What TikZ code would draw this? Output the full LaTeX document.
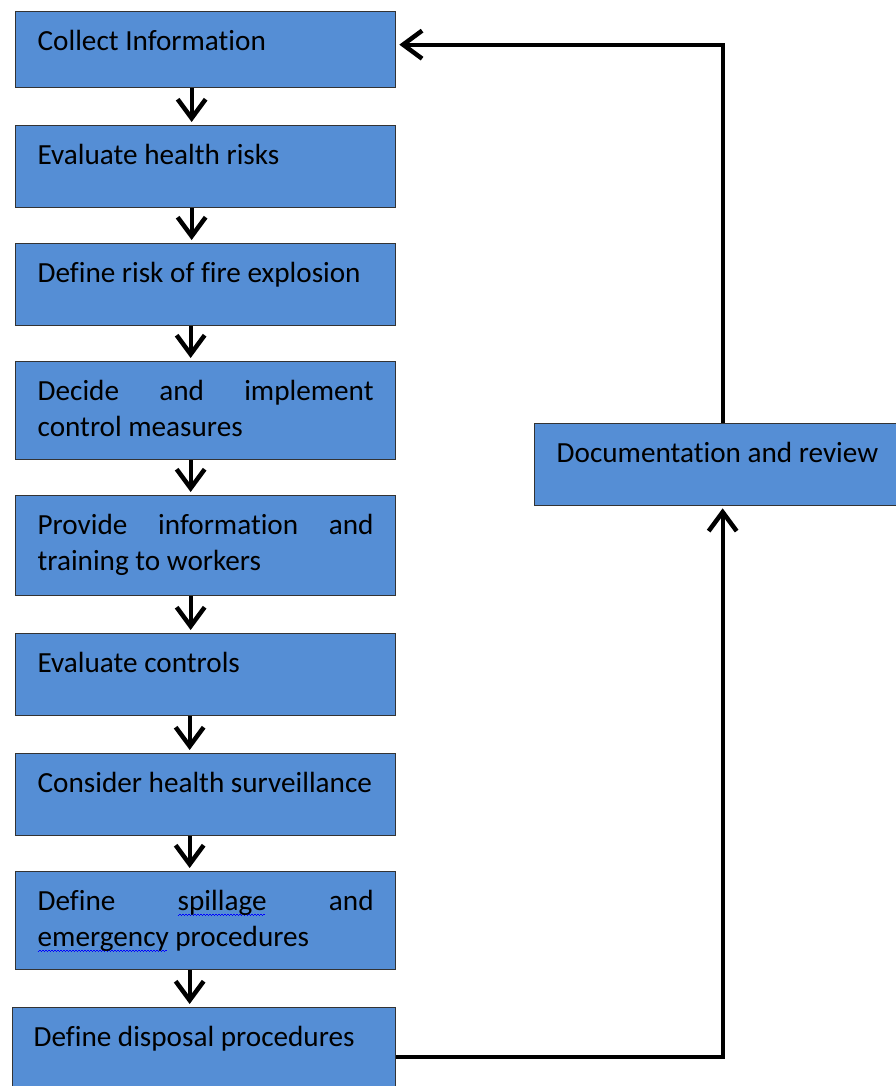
\documentclass[tikz,border=0pt]{standalone}
\usepackage{fontspec}
\setmainfont{Carlito}[Ligatures=NoCommon]
\usetikzlibrary{arrows.meta}
\definecolor{boxblue}{RGB}{85,142,213}
\newsavebox{\spellbox}
\newcommand{\spellmark}[1]{\leavevmode\sbox{\spellbox}{#1}%
  \rlap{\color{blue}\leaders\hbox to 3pt{\raisebox{-5pt}{\rule{1.5pt}{0.8pt}}\raisebox{-4.2pt}{\rule{1.5pt}{0.8pt}}}\hskip\wd\spellbox}\usebox{\spellbox}}
\newcommand{\boxfont}{\fontsize{29.2}{36}\selectfont\hyphenpenalty=10000\relax}

\begin{document}
\begin{tikzpicture}[x=1pt,y=-1pt,
    stage/.style={draw=black!80, line width=1.3pt, fill=boxblue, anchor=north west,
      inner xsep=22pt, inner ysep=0pt, text width=336pt, align=left,
      text height=39pt, font=\boxfont,
      execute at begin node={\spaceskip=0pt\xspaceskip=0pt\relax}},
    flow/.style={line width=4pt, shorten >=3pt, -{Straight Barb[length=19pt,width=28pt,line width=4.5pt]}}]
  \useasboundingbox (0,0) rectangle (895,1086);
  \node[stage, text depth=37pt] (collect) at (15,11) {Collect Information};
  \node[stage, text depth=43pt] (health) at (15,125) {Evaluate health risks};
  \node[stage, text depth=43pt] (fire) at (15,243) {Define risk of fire explosion};
  \node[stage, text depth=59pt] (decide) at (15,361) {Decide\hfill and\hfill implement\\control measures};
  \node[stage, text depth=61pt] (train) at (15,495) {Provide\hfill information\hfill and\\training to workers};
  \node[stage, text depth=43pt] (controls) at (15,633) {Evaluate controls};
  \node[stage, text depth=43pt] (surveil) at (15,753) {Consider health surveillance};
  \node[stage, text depth=59pt] (spill) at (15,871) {Define\hfill \spellmark{spillage}\hfill and\\\spellmark{emergency} procedures};
  \node[stage, text depth=59pt, inner xsep=21pt, text width=341pt] (dispose) at (12,1007) {Define disposal procedures};
  \node[stage, text depth=43pt, text width=332pt] (review) at (534,423) {Documentation and review};
  % main sequence
  \draw[flow] ([xshift=-14pt]collect.south) -- ([xshift=-14pt]health.north);
  \draw[flow] ([xshift=-14pt]health.south) -- ([xshift=-14pt]fire.north);
  \draw[flow] ([xshift=-15pt]fire.south) -- ([xshift=-15pt]decide.north);
  \draw[flow] ([xshift=-15pt]decide.south) -- ([xshift=-15pt]train.north);
  \draw[flow] ([xshift=-15pt]train.south) -- ([xshift=-15pt]controls.north);
  \draw[flow] ([xshift=-16pt]controls.south) -- ([xshift=-16pt]surveil.north);
  \draw[flow] ([xshift=-16pt]surveil.south) -- ([xshift=-16pt]spill.north);
  \draw[flow] ([xshift=-16pt]spill.south) -- ([xshift=-16pt]spill.south |- dispose.north);
  % feedback loop
  \draw[flow, shorten >=2pt] (dispose.east) -| (review.south);
  \draw[flow] (review.north) |- ([yshift=5pt]collect.east);
\end{tikzpicture}
\end{document}
